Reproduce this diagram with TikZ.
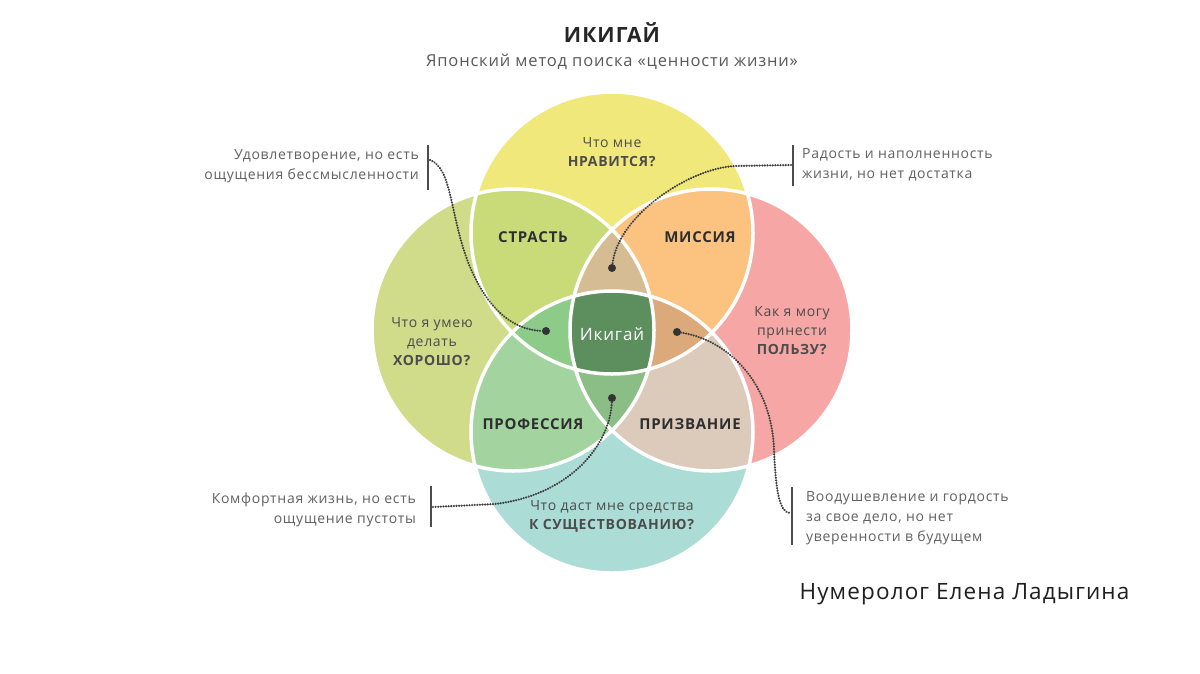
\documentclass[tikz,border=0pt]{standalone}
\usepackage{fontspec}
\setmainfont{Open Sans}[LetterSpace=5]
\usetikzlibrary{positioning}

\definecolor{cTop}{HTML}{F1E87B}
\definecolor{cLeft}{HTML}{D1DC8A}
\definecolor{cRight}{HTML}{F6A6A5}
\definecolor{cBottom}{HTML}{ABDCD5}
\definecolor{cPassion}{HTML}{C9DB78}
\definecolor{cMission}{HTML}{FCC27F}
\definecolor{cProf}{HTML}{A3D4A0}
\definecolor{cVocation}{HTML}{DCCBBA}
\definecolor{cTriTop}{HTML}{D6BC93}
\definecolor{cTriLeft}{HTML}{8DCB89}
\definecolor{cTriRight}{HTML}{DCA97A}
\definecolor{cTriBottom}{HTML}{8BBE86}
\definecolor{cIkigai}{HTML}{5C8E5E}

\tikzset{
  dot/.style = {circle, fill=black!80, minimum size=#1,
                inner sep=0pt, outer sep=0pt},
  dot/.default = 8pt,
  ring/.style = {draw=white, line width=3.5pt},
  chain/.style = {line width=2.4pt, line cap=round, dash pattern=on 0.01pt off 2.6pt, color=black!75},
  bar/.style = {line width=1.8pt, color=black!70},
  note/.style = {font=\fontsize{14}{20}\selectfont, text=black!62, inner sep=0pt},
  ask/.style = {font=\fontsize{14}{19}\selectfont, text=black!70, align=center},
  zone/.style = {font=\bfseries\fontsize{15}{18}\selectfont, text=black!82}
}

\begin{document}
\begin{tikzpicture}[x=1pt,y=-1pt]
	\def \rad{141pt}
	\useasboundingbox (0,0) rectangle (1200,673);
	\fill[white] (0,0) rectangle (1200,673);

	\coordinate (T) at (612,233);
	\coordinate (B) at (612,432);
	\coordinate (L) at (513,330);
	\coordinate (R) at (711,330);

	% Circles
	\fill[cTop]    (T) circle (\rad);
	\fill[cLeft]   (L) circle (\rad);
	\fill[cRight]  (R) circle (\rad);
	\fill[cBottom] (B) circle (\rad);

	% Pairs
	\begin{scope} \clip (T) circle (\rad); \fill[cPassion] (L) circle (\rad); \end{scope}
	\begin{scope} \clip (T) circle (\rad); \fill[cMission] (R) circle (\rad); \end{scope}
	\begin{scope} \clip (B) circle (\rad); \fill[cProf] (L) circle (\rad); \end{scope}
	\begin{scope} \clip (B) circle (\rad); \fill[cVocation] (R) circle (\rad); \end{scope}

	% Triples
	\begin{scope} \clip (T) circle (\rad); \clip (L) circle (\rad); \fill[cTriTop] (R) circle (\rad); \end{scope}
	\begin{scope} \clip (T) circle (\rad); \clip (B) circle (\rad); \fill[cTriLeft] (L) circle (\rad); \end{scope}
	\begin{scope} \clip (T) circle (\rad); \clip (B) circle (\rad); \fill[cTriRight] (R) circle (\rad); \end{scope}
	\begin{scope} \clip (L) circle (\rad); \clip (R) circle (\rad); \fill[cTriBottom] (B) circle (\rad); \end{scope}

	% Ikigai
	\begin{scope} \clip (T) circle (\rad); \clip (B) circle (\rad); \clip (L) circle (\rad); \fill[cIkigai] (R) circle (\rad); \end{scope}

	% White rings
	\draw[ring] (T) circle (\rad);
	\draw[ring] (L) circle (\rad);
	\draw[ring] (R) circle (\rad);
	\draw[ring] (B) circle (\rad);

	% Title
	\node[font=\bfseries\fontsize{21}{25}\selectfont, text=black!85] (title) at (612,33) {ИКИГАЙ};
	\node[font=\fontsize{16.5}{20}\selectfont, text=black!65] (subtitle) at (612,62) {Японский метод поиска «ценности жизни»};

	% Labels
	\node[ask] (like) at (612,152) {Что мне\\ \textbf{НРАВИТСЯ?}};
	\node[ask] (good) at (432,342) {Что я умею\\ делать\\ \textbf{ХОРОШО?}};
	\node[ask] (need) at (792,331) {Как я могу\\ принести\\ \textbf{ПОЛЬЗУ?}};
	\node[ask] (paid) at (612,516) {Что даст мне средства\\ \textbf{К СУЩЕСТВОВАНИЮ?}};
	\node[zone] (passion)  at (533,237) {СТРАСТЬ};
	\node[zone] (mission)  at (700,237) {МИССИЯ};
	\node[zone] (prof)     at (533,424) {ПРОФЕССИЯ};
	\node[zone] (vocation) at (690,424) {ПРИЗВАНИЕ};
	\node[font=\fontsize{17}{20}\selectfont, text=white] (ikigai) at (612,334) {Икигай};

	% Notes
	\node[note, anchor=east, align=right] (noteA) at (419,166) {Удовлетворение, но есть\\ ощущения бессмысленности};
	\node[note, anchor=west, align=left] (noteB) at (802,165) {Радость и наполненность\\ жизни, но нет достатка};
	\node[note, anchor=east, align=right] (noteC) at (416,510) {Комфортная жизнь, но есть\\ ощущение пустоты};
	\node[note, anchor=west, align=left] (noteD) at (806,518) {Воодушевление и гордость\\ за свое дело, но нет\\ уверенности в будущем};

	% Bars
	\draw[bar] (428,145) -- (428,190);
	\draw[bar] (793,145) -- (793,186);
	\draw[bar] (431,486) -- (431,527);
	\draw[bar] (792,487) -- (792,545);
	\coordinate (aBar) at (430,160);
	\coordinate (bBar) at (791,165);
	\coordinate (cBar) at (433,507);
	\coordinate (dBar) at (790,513);

	% Dots
	\node[dot] (dA) at (546,331) {};
	\node[dot] (dB) at (612,268) {};
	\node[dot] (dC) at (612,398) {};
	\node[dot] (dD) at (677,332) {};

	% Chains
	\draw[chain] (aBar) .. controls (452,168) and (450,215) .. (468,262) .. controls (485,305) and (510,330) .. (dA);
	\draw[chain] (bBar) -- (735,166) .. controls (690,168) and (618,215) .. (dB);
	\draw[chain] (cBar) -- (495,504) .. controls (570,495) and (610,445) .. (dC);
	\draw[chain] (dD) .. controls (730,340) and (772,385) .. (774,450) .. controls (776,495) and (780,512) .. (dBar);

	% Signature
	\node[font=\fontsize{22.5}{28}\selectfont, text=black!88, anchor=west] (sign) at (796,594) {Нумеролог Елена Ладыгина};
\end{tikzpicture}
\end{document}
